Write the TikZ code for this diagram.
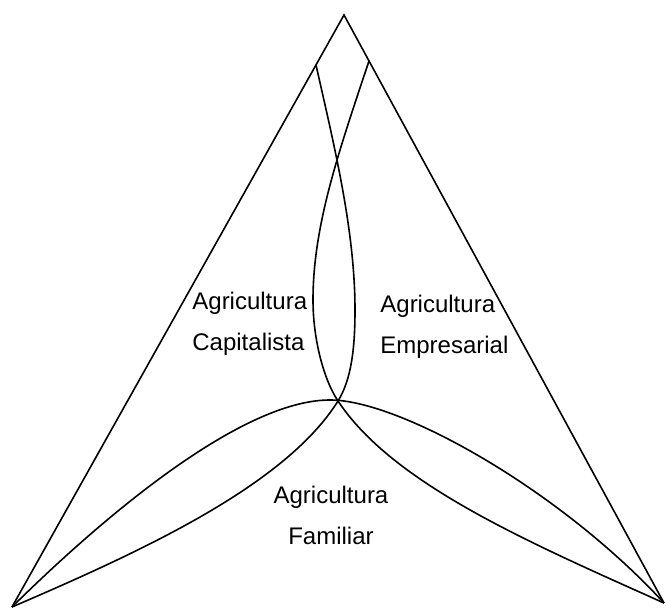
\documentclass[tikz,border=0pt]{standalone}
\usepackage{fontspec}
\setmainfont{Liberation Sans}
\begin{document}
\begin{tikzpicture}[x=0.5pt,y=-0.5pt,
  linha/.style={line width=0.8pt,line join=miter},
  rotulo/.style={inner sep=0pt,font=\fontsize{12}{20.5}\selectfont}]
\useasboundingbox (0,0) rectangle (666,608);
\coordinate (topo) at (344,15);
\coordinate (esq) at (12,607);
\coordinate (dir) at (664,603);
\coordinate (e1) at (316,65);
\coordinate (d1) at (369,61);
\coordinate (centro) at (338,401);
\coordinate (pico) at (330,400);
\draw[linha] (esq) -- (topo) -- (dir);
\draw[linha] (e1) .. controls (334,145) and (355,230) .. (355,310)
  .. controls (355,350) and (351,380) .. (centro)
  .. controls (285,486) and (140,552) .. (esq);
\draw[linha] (d1) .. controls (339,151) and (313,225) .. (313,300)
  .. controls (313,340) and (324,380) .. (centro)
  .. controls (393,484) and (528,542) .. (dir);
\draw[linha] (esq) .. controls (100,520) and (240,400) .. (pico)
  .. controls (400,400) and (560,490) .. (dir);
\node[rotulo,align=left,anchor=west] (capitalista) at (192,324) {Agricultura\\Capitalista};
\node[rotulo,align=left,anchor=west] (empresarial) at (380,327) {Agricultura\\Empresarial};
\node[rotulo,align=center] (familiar) at (331,515) {Agricultura\\Familiar};
\end{tikzpicture}
\end{document}
